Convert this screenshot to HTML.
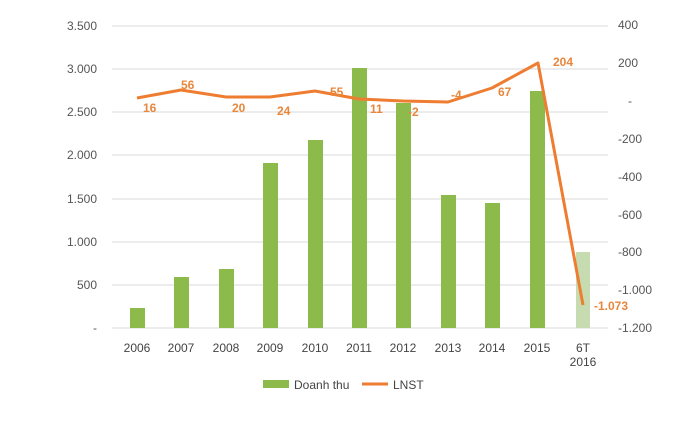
<!DOCTYPE html>
<html><head><meta charset="utf-8"><style>
body{margin:0;background:#fff}
svg text{font-family:"Liberation Sans",sans-serif}
</style></head><body>
<svg width="700" height="420" xmlns="http://www.w3.org/2000/svg">
<g stroke="#d9d9d9" stroke-width="1">
<line x1="112" x2="608" y1="26" y2="26"/><line x1="112" x2="608" y1="69" y2="69"/>
<line x1="112" x2="608" y1="112" y2="112"/><line x1="112" x2="608" y1="155" y2="155"/>
<line x1="112" x2="608" y1="199" y2="199"/><line x1="112" x2="608" y1="242" y2="242"/>
<line x1="112" x2="608" y1="285" y2="285"/><line x1="112" x2="608" y1="328" y2="328"/>
</g>
<g font-size="12" fill="#555" text-anchor="end">
<text x="97" y="30">3.500</text><text x="97" y="73">3.000</text><text x="97" y="116">2.500</text>
<text x="97" y="159">2.000</text><text x="97" y="203">1.500</text><text x="97" y="246">1.000</text>
<text x="97" y="289">500</text><text x="97" y="332">-</text>
</g>
<g font-size="12" fill="#555" text-anchor="start">
<text x="618" y="29">400</text><text x="618" y="67">200</text><text x="628" y="105">-</text>
<text x="618" y="143">-200</text><text x="618" y="181">-400</text><text x="618" y="219">-600</text>
<text x="618" y="256">-800</text><text x="618" y="294">-1.000</text><text x="618" y="332">-1.200</text>
</g>
<g fill="#8cbb4b">
<rect x="130" y="308" width="15" height="20"/><rect x="174" y="277" width="15" height="51"/>
<rect x="219" y="269" width="15" height="59"/><rect x="263" y="163" width="15" height="165"/>
<rect x="308" y="140" width="15" height="188"/><rect x="352" y="68" width="15" height="260"/>
<rect x="396" y="103" width="15" height="225"/><rect x="441" y="195" width="15" height="133"/>
<rect x="485" y="203" width="15" height="125"/><rect x="530" y="91" width="15" height="237"/>
</g>
<rect x="576" y="252" width="14" height="76" fill="#c6dcb0"/>
<polyline fill="none" stroke="#ee7d31" stroke-width="3" stroke-linejoin="round"
points="137,98 181,90 226,97 270,97 315,91 359,99 403,101 448,102 492,88 538,63 583,305"/>
<g font-size="12" font-weight="bold" fill="#e8873c">
<text x="143" y="112">16</text><text x="181" y="89">56</text><text x="232" y="112">20</text>
<text x="277" y="115">24</text><text x="330" y="96">55</text><text x="370" y="113">11</text>
<text x="408" y="116">-2</text><text x="451" y="99">-4</text><text x="498" y="96">67</text>
<text x="553" y="66">204</text><text x="594" y="310">-1.073</text>
</g>
<g font-size="12" fill="#444" text-anchor="middle">
<text x="137" y="352">2006</text><text x="181" y="352">2007</text><text x="226" y="352">2008</text>
<text x="270" y="352">2009</text><text x="315" y="352">2010</text><text x="359" y="352">2011</text>
<text x="403" y="352">2012</text><text x="448" y="352">2013</text><text x="492" y="352">2014</text>
<text x="537" y="352">2015</text><text x="583" y="352">6T</text><text x="583" y="366">2016</text>
</g>
<rect x="263" y="380" width="26" height="8" fill="#8cbb4b"/>
<text x="294" y="389" font-size="12" fill="#444">Doanh thu</text>
<line x1="362" x2="388" y1="384" y2="384" stroke="#ee7d31" stroke-width="3"/>
<text x="393" y="389" font-size="12" fill="#444">LNST</text>
</svg>
</body></html>
